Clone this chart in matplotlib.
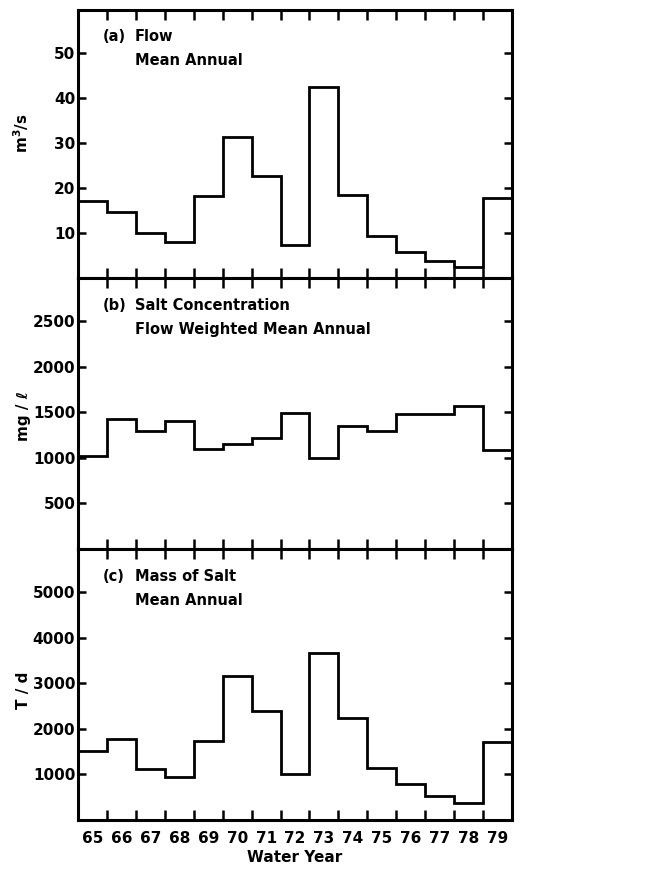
import numpy as np
import matplotlib
matplotlib.use("Agg")
import matplotlib.pyplot as plt

years = list(range(65, 80))

flow = [17.1, 14.6, 10.0, 8.0, 18.2, 31.4, 22.7, 7.4, 42.4, 18.4, 9.4, 5.8, 3.7, 2.4, 17.8]
salt_conc = [1025, 1424, 1292, 1406, 1098, 1157, 1215, 1490, 995, 1351, 1300, 1487, 1479, 1571, 1087]
salt_mass = [1521, 1785, 1110, 955, 1726, 3164, 2401, 1014, 3670, 2232, 1132, 794, 537, 376, 1711]

panels = [
	(flow, "m$^3$/s", [10, 20, 30, 40, 50], 59.5, "(a)", "Flow", "Mean Annual", 0.54),
	(salt_conc, "mg / ℓ", [500, 1000, 1500, 2000, 2500], 2975, "(b)", "Salt Concentration", "Flow Weighted Mean Annual", 0.49),
	(salt_mass, "T / d", [1000, 2000, 3000, 4000, 5000], 5950, "(c)", "Mass of Salt", "Mean Annual", 0.48),
]

plt.rcParams['font.family'] = ['DejaVu Sans']
plt.rcParams['font.weight'] = 'bold'

fig = plt.figure(figsize=(6.47, 8.71), dpi=100)
W, H = 647, 871
left, right = 78, 512
bounds = [(10, 278), (278, 549), (549, 820)]

edges = np.arange(years[0] - 0.5, years[-1] + 1.0, 1.0)

for i, (vals, ylab, yt, ytop, tag, line1, line2, ly) in enumerate(panels):
	top, bot = bounds[i]
	ax = fig.add_axes([left / W, 1 - bot / H, (right - left) / W, (bot - top) / H])
	ax.stairs(vals, edges, baseline=None, color="black", linewidth=2.0)
	ax.set_xlim(edges[0], edges[-1])
	ax.set_ylim(0, ytop)
	for s in ax.spines.values():
		s.set_linewidth(2.2)

	ax.set_yticks(yt)
	ax.set_yticklabels([str(v) for v in yt], fontsize=11, fontweight="bold")
	ax.tick_params(axis="y", which="major", direction="in", length=6, width=1.8,
		left=True, right=True, pad=2)

	ax.set_xticks(edges[1:-1], minor=True)
	ax.tick_params(axis="x", which="minor", direction="in", length=7, width=1.8,
		top=True, bottom=True)
	ax.set_xticks(years)
	if i == 2:
		ax.set_xticklabels([str(y) for y in years], fontsize=11, fontweight="bold")
		ax.tick_params(axis="x", which="major", length=0, pad=8)
		ax.set_xlabel("Water Year", fontsize=11, fontweight="bold", labelpad=3)
	else:
		ax.set_xticklabels([])
		ax.tick_params(axis="x", which="major", length=0)

	ax.set_ylabel(ylab, fontsize=11, fontweight="bold")
	ax.yaxis.set_label_coords((31 - left) / (right - left), ly)

	ax.text(0.058, 0.90, tag, transform=ax.transAxes, fontsize=10.5, fontweight="bold", va="center")
	ax.text(0.131, 0.90, line1, transform=ax.transAxes, fontsize=10.5, fontweight="bold", va="center")
	ax.text(0.131, 0.81, line2, transform=ax.transAxes, fontsize=10.5, fontweight="bold", va="center")

fig.savefig("out.png", dpi=100)
